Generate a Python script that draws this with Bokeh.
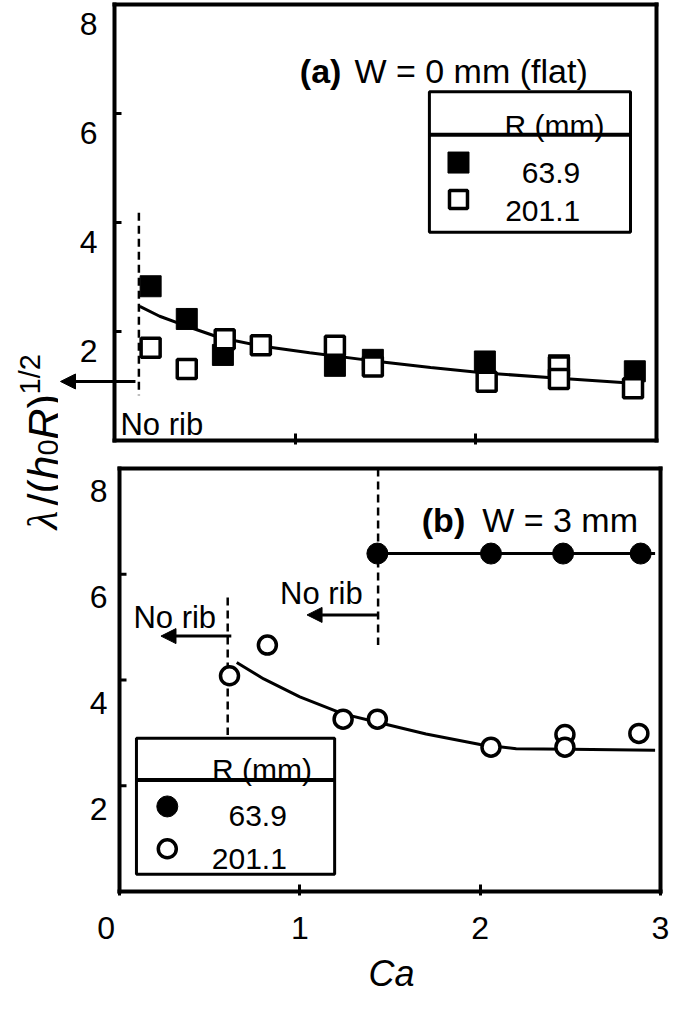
from bokeh.plotting import figure
from bokeh.models import Range1d, FixedTicker, Arrow, NormalHead
from bokeh.layouts import row, column
from bokeh.embed import file_html
from bokeh.resources import INLINE
from bokeh.core.properties import value
import math

SANS = "Liberation Sans"
SERIF = "Liberation Serif"

# ---------------- data ----------------
y_ticks = [2, 4, 6, 8]
y_tick_labels = ["2", "4", "6", "8"]
x_ticks_a = [1, 2]
x_ticks_b = [0, 1, 2, 3]
x_label_b = {0: "0\u00a0\u00a0\u00a0", 1: "1", 2: "2", 3: "3"}
x_title = "\u00a0" * 6 + "Ca"
legend_title = "R (mm)"
legend_labels = ["63.9", "201.1"]

# panel (a): W = 0 mm (flat)
a_ca_filled = [0.20, 0.40, 0.60, 1.22, 1.43, 2.05, 2.46, 2.88]
a_lam_filled = [2.83, 2.23, 1.57, 1.37, 1.48, 1.45, 1.38, 1.27]
a_ca_open = [0.20, 0.40, 0.61, 0.81, 1.22, 1.43, 2.06, 2.46, 2.46, 2.87]
a_lam_open = [1.70, 1.31, 1.86, 1.75, 1.74, 1.36, 1.08, 1.36, 1.13, 0.96]
a_fit_ca = [0.14, 0.25, 0.38, 0.58, 0.80, 1.08, 1.41, 1.75, 2.05, 2.46, 2.87, 2.92]
a_fit_lam = [2.46, 2.28, 2.12, 1.89, 1.74, 1.61, 1.47, 1.34, 1.24, 1.14, 1.05, 1.03]
a_norib_ca = 0.135
a_norib_lam = [4.18, 0.83]
a_arrow_lam = 1.083

# panel (b): W = 3 mm
b_ca_filled = [1.43, 2.06, 2.46, 2.89]
b_lam_filled = [6.39, 6.39, 6.39, 6.39]
b_fit_filled_ca = [1.43, 2.97]
b_fit_filled_lam = [6.39, 6.39]
b_ca_open = [0.61, 0.82, 1.24, 1.43, 2.06, 2.47, 2.47, 2.88]
b_lam_open = [4.08, 4.66, 3.26, 3.26, 2.73, 2.97, 2.73, 2.99]
b_fit_open_ca = [0.65, 0.80, 1.00, 1.24, 1.43, 1.70, 2.00, 2.20, 2.50, 2.97]
b_fit_open_lam = [4.33, 4.02, 3.68, 3.36, 3.20, 2.98, 2.78, 2.70, 2.69, 2.67]
b_norib_open_ca = 0.60
b_norib_open_lam = [5.56, 2.96]
b_norib_filled_ca = 1.434
b_norib_filled_lam = [8.0, 4.66]


def txt(p, x, y, s, size, align="left", style_="normal", font=SANS):
    p.text(x=[x], y=[y], text=[s], text_font=value(font), text_font_size=size,
           text_align=align, text_baseline="alphabetic", text_font_style=style_,
           text_color="black")


def arrow(p, x0, x1, y):
    p.add_layout(Arrow(end=NormalHead(size=15, fill_color="black", line_color="black",
                                      line_width=1),
                       x_start=x0, y_start=y, x_end=x1, y_end=y,
                       line_width=3, line_color="black"))


# ---------------- left figure: y-axis title ----------------
H_TOTAL = 996
LW = 58
pL = figure(width=LW, height=H_TOTAL, x_range=Range1d(0, LW), y_range=Range1d(0, H_TOTAL),
            x_axis_type=None, y_axis_type=None, output_backend="svg",
            toolbar_location=None, min_border=0)
pL.outline_line_color = None


def ylab(px, py, s, size, font=SANS, style_="normal"):
    pL.text(x=[px - 8], y=[8 + H_TOTAL - py], text=[s], text_font=value(font),
            text_font_size=size, text_font_style=style_, angle=math.pi / 2,
            text_align="left", text_baseline="alphabetic", text_color="black")


ylab(50, 537, "λ", "43px", SERIF, "italic")
ylab(50, 513, "/(", "43px")
ylab(50, 487, "h", "43px", SANS, "italic")
ylab(55, 463, "0", "29px")
ylab(50, 447, "R", "43px", SANS, "italic")
ylab(50, 416, ")", "43px")
ylab(37, 402, "1/2", "29px")


# ---------------- panels ----------------
# Each frame reaches left to the title strip (so the "No rib" arrow of (a) can run
# past the Ca = 0 axis); the left axis (line, ticks, labels) is drawn at Ca = 0.
FRAME_W = 606
PX_Y = 436 / 8.0          # px per lambda unit


def panel(height, px_x, left_px, top_border, bottom_border, label_gap, label_drop):
    p = figure(width=FRAME_W + 5, height=height,
               x_range=Range1d(-left_px / px_x, -left_px / px_x + FRAME_W / px_x),
               y_range=Range1d(-4 / PX_Y, 8 + 4 / PX_Y), y_axis_location=None,
               output_backend="svg", toolbar_location=None,
               min_border_left=0, min_border_right=5, min_border_top=top_border,
               min_border_bottom=bottom_border)
    p.xgrid.visible = False
    p.ygrid.visible = False
    p.outline_line_color = None
    ax = p.xaxis[0]
    ax.axis_line_color = None
    ax.major_tick_in = 11
    ax.major_tick_out = 0
    ax.major_tick_line_width = 3
    ax.major_tick_line_color = "black"
    ax.minor_tick_line_color = None
    ax.major_label_text_font = SANS
    ax.major_label_text_font_size = "32px"
    ax.major_label_text_color = "black"
    # plot box
    p.segment(x0=[0, 3, 3, 0], y0=[0, 0, 8, 8], x1=[3, 3, 0, 0], y1=[0, 8, 8, 0],
              line_color="black", line_width=4, line_cap="square")
    # left axis ticks and labels at Ca = 0
    n = len(y_ticks)
    p.segment(x0=[0] * n, y0=y_ticks, x1=[7 / px_x] * n, y1=y_ticks,
              line_color="black", line_width=3)
    p.text(x=[-label_gap / px_x] * n, y=[t - label_drop / PX_Y for t in y_ticks],
           text=y_tick_labels, text_font=value(SANS), text_font_size="32px",
           text_align="right", text_baseline="alphabetic", text_color="black")
    return p


# ---------------- panel (a) ----------------
A_PX_X = 542 / 3.0
pa = panel(452, A_PX_X, 56, 0, 8, 17, 19.5)
pa.xaxis.ticker = FixedTicker(ticks=x_ticks_a)
pa.xaxis.major_label_text_color = None
pa.xaxis.major_label_text_font_size = "1px"
pa.xaxis.major_label_standoff = 0

pa.line(a_fit_ca, a_fit_lam, line_color="black", line_width=3)
pa.line([a_norib_ca, a_norib_ca], a_norib_lam, line_color="black", line_width=2.5,
        line_dash="8 5")
pa.scatter(a_ca_filled, a_lam_filled, marker="square", size=21, fill_color="black",
           line_color="black", line_width=1)
pa.scatter(a_ca_open, a_lam_open, marker="square", size=19, fill_color="white",
           line_color="black", line_width=3.5)
arrow(pa, 0.116, -54 / A_PX_X, a_arrow_lam)
txt(pa, 0.033, 0.29, "No rib", "31px")
txt(pa, 1.256, 6.78, "(a)", "34px", "right", "bold")
txt(pa, 1.328, 6.78, "W = 0 mm (flat)", "34px", "left")

# legend (a)
pa.quad(left=[1.743], right=[2.856], top=[6.40], bottom=[3.82], fill_color="white",
        line_color="black", line_width=3)
pa.line([1.743, 2.856], [5.61, 5.61], line_color="black", line_width=4)
txt(pa, 2.435, 5.78, legend_title, "30px", "center")
pa.scatter([1.904], [5.10], marker="square", size=21, fill_color="black", line_color="black")
pa.scatter([1.904], [4.42], marker="square", size=18, fill_color="white", line_color="black",
           line_width=3.5)
txt(pa, 2.578, 4.91, legend_labels[0], "30px", "right")
txt(pa, 2.578, 4.22, legend_labels[1], "30px", "right")

# ---------------- panel (b) ----------------
B_PX_X = 541 / 3.0
pb = panel(544, B_PX_X, 61, 12, 88, 12, 23.5)
pb.xaxis.ticker = FixedTicker(ticks=x_ticks_b)
pb.xaxis.major_label_standoff = 14
pb.xaxis.major_label_overrides = x_label_b
pb.xaxis.axis_label = x_title
pb.xaxis.axis_label_text_font = SANS
pb.xaxis.axis_label_text_font_size = "36px"
pb.xaxis.axis_label_text_font_style = "italic"
pb.xaxis.axis_label_text_color = "black"
pb.xaxis.axis_label_standoff = 4

pb.line(b_fit_filled_ca, b_fit_filled_lam, line_color="black", line_width=3)
pb.line(b_fit_open_ca, b_fit_open_lam, line_color="black", line_width=3)
pb.line([b_norib_filled_ca, b_norib_filled_ca], b_norib_filled_lam, line_color="black",
        line_width=2.5, line_dash="8 5")
pb.line([b_norib_open_ca, b_norib_open_ca], b_norib_open_lam, line_color="black",
        line_width=2.5, line_dash="8 5")
pb.scatter(b_ca_filled, b_lam_filled, marker="circle", size=21, fill_color="black",
           line_color="black")
pb.scatter(b_ca_open, b_lam_open, marker="circle", size=18, fill_color="white",
           line_color="black", line_width=3.5)
arrow(pb, 0.62, 0.23, 4.83)
arrow(pb, 1.434, 1.04, 5.23)
txt(pb, 0.077, 5.18, "No rib", "31px")
txt(pb, 0.89, 5.63, "No rib", "31px")
txt(pb, 1.917, 7.03, "(b)", "34px", "right", "bold")
txt(pb, 2.011, 7.03, "W = 3 mm", "34px", "left")

# legend (b)
pb.quad(left=[0.094], right=[1.193], top=[2.90], bottom=[0.33], fill_color="white",
        line_color="black", line_width=3)
pb.line([0.094, 1.193], [2.11, 2.11], line_color="black", line_width=4)
txt(pb, 0.79, 2.30, legend_title, "30px", "center")
pb.scatter([0.265], [1.61], marker="circle", size=21, fill_color="black", line_color="black")
pb.scatter([0.265], [0.81], marker="circle", size=18, fill_color="white", line_color="black",
           line_width=3.5)
txt(pb, 0.928, 1.42, legend_labels[0], "30px", "right")
txt(pb, 0.928, 0.62, legend_labels[1], "30px", "right")

layout = row(pL, column(pa, pb))
open("out.html", "w").write(file_html(layout, INLINE))
